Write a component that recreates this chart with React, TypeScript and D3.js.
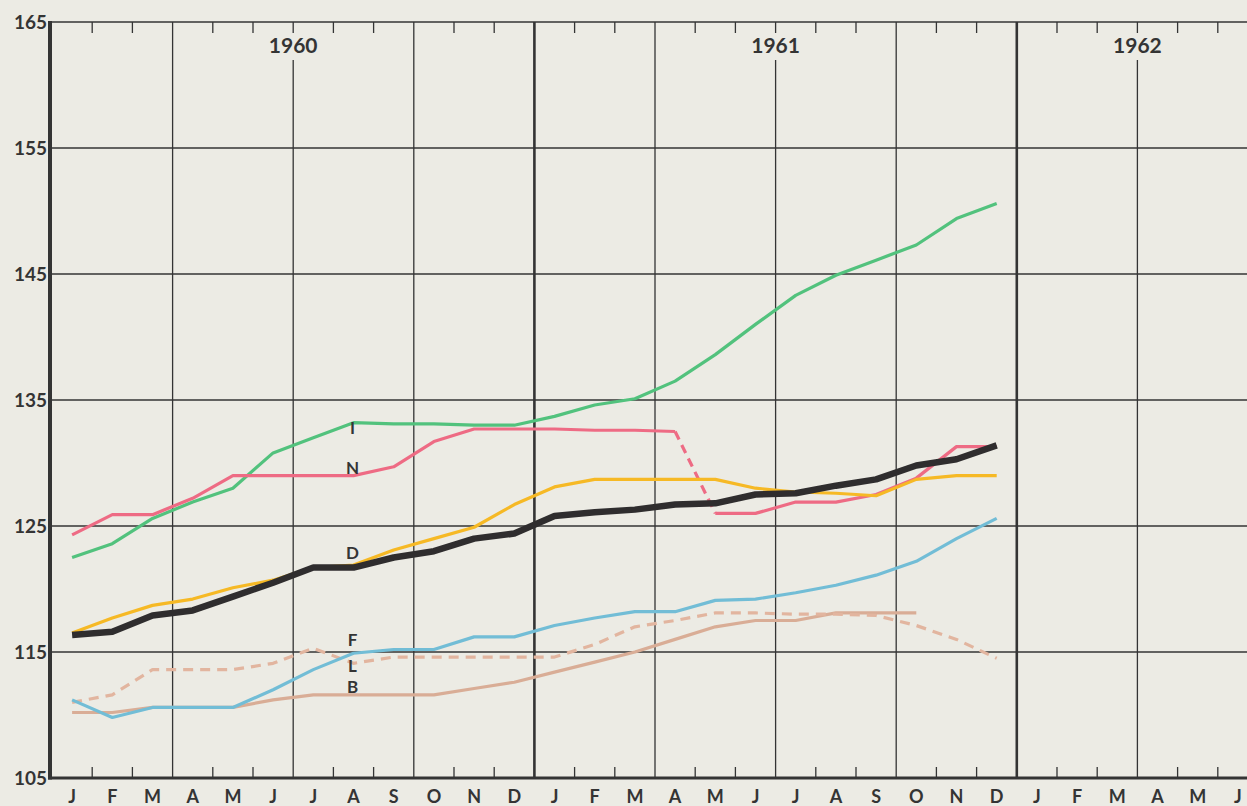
import { useEffect, useRef } from "react";
import { select, scaleLinear, line, range } from "d3";

const months = ["J", "F", "M", "A", "M", "J", "J", "A", "S", "O", "N", "D"];
const years = ["1960", "1961", "1962"];
const yTicks = [105, 115, 125, 135, 145, 155, 165];

// monthly index values, Jan 1960 onwards
const seriesD = [116.35, 116.6, 117.9, 118.3, 119.4, 120.5, 121.7, 121.7, 122.5, 123.0, 124.0, 124.4, 125.8, 126.1, 126.3, 126.7, 126.8, 127.5, 127.6, 128.2, 128.7, 129.8, 130.3, 131.4];
const seriesY = [116.5, 117.7, 118.7, 119.2, 120.1, 120.7, 121.7, 121.9, 123.1, 124.0, 124.9, 126.7, 128.1, 128.7, 128.7, 128.7, 128.7, 128.0, 127.7, 127.6, 127.4, 128.7, 129.0, 129.0];
const seriesI = [122.5, 123.6, 125.6, 126.9, 128.0, 130.8, 132.0, 133.2, 133.1, 133.1, 133.0, 133.0, 133.7, 134.6, 135.1, 136.5, 138.6, 141.0, 143.3, 144.9, 146.1, 147.3, 149.4, 150.6];
const seriesN = [124.3, 125.9, 125.9, 127.2, 129.0, 129.0, 129.0, 129.0, 129.7, 131.7, 132.7, 132.7, 132.7, 132.6, 132.6, 132.5, 126.0, 126.0, 126.9, 126.9, 127.5, 128.8, 131.3, 131.3];
const seriesF = [111.2, 109.8, 110.6, 110.6, 110.6, 112.0, 113.6, 114.9, 115.2, 115.2, 116.2, 116.2, 117.1, 117.7, 118.2, 118.2, 119.1, 119.2, 119.7, 120.3, 121.1, 122.2, 124.0, 125.6];
const seriesB = [110.2, 110.2, 110.6, 110.6, 110.6, 111.2, 111.6, 111.6, 111.6, 111.6, 112.1, 112.6, 113.4, 114.2, 115.0, 116.0, 117.0, 117.5, 117.5, 118.1, 118.1, 118.1];
const seriesL = [111.0, 111.6, 113.6, 113.6, 113.6, 114.1, 115.3, 114.1, 114.6, 114.6, 114.6, 114.6, 114.6, 115.6, 117.0, 117.5, 118.1, 118.1, 118.0, 118.0, 117.9, 117.1, 116.0, 114.5];

// pink N is dashed between these two months
const nDashFrom = 15;
const nDashTo = 16;

const labels = [
  { text: "I", month: 7, value: 132.8 },
  { text: "N", month: 7, value: 129.6 },
  { text: "D", month: 7, value: 122.9 },
  { text: "F", month: 7, value: 115.95 },
  { text: "L", month: 7, value: 113.9 },
  { text: "B", month: 7, value: 112.2 },
];

const size = { w: 1247, h: 806 };
const FONT = "Lato, 'DejaVu Sans', sans-serif";
const INK = "#343434";
const nMonths = 30;

const drawChart = (ref: SVGSVGElement) => {
  const svg = select(ref);
  svg.selectAll("*").remove();

  const x = scaleLinear().domain([0, nMonths]).range([52, 52 + nMonths * 40.2]);
  const y = scaleLinear().domain([105, 165]).range([778, 22]);

  // year label sits on the mid line of the visible part of each year
  const lastVisible = Math.floor(x.invert(size.w));
  const yearMid = years.map((d, i) => Math.min(i * 12 + 6, Math.round((i * 12 + lastVisible) / 2 / 3) * 3));

  svg.append("rect").attr("width", size.w).attr("height", size.h).attr("fill", "#ecebe4");

  const grid = svg.append("g").attr("stroke", INK).attr("fill", "none");

  // horizontal grid
  grid
    .selectAll("line.h")
    .data(yTicks.filter((d) => d > 105 && d < 165))
    .join("line")
    .attr("x1", x(0))
    .attr("x2", size.w)
    .attr("y1", (d) => y(d))
    .attr("y2", (d) => y(d))
    .attr("stroke-width", 1.3);

  // top border
  grid.append("line").attr("x1", x(0)).attr("x2", size.w).attr("y1", y(165)).attr("y2", y(165)).attr("stroke-width", 1.5);

  // quarter lines, broken under the year labels
  const quarters = range(3, nMonths, 3);
  grid
    .selectAll("line.q")
    .data(quarters)
    .join("line")
    .attr("x1", (d) => x(d))
    .attr("x2", (d) => x(d))
    .attr("y1", (d) => (yearMid.includes(d) ? 60 : y(165)))
    .attr("y2", y(105))
    .attr("stroke-width", (d) => (d % 12 === 0 ? 2.6 : 1.3));

  // month ticks top & bottom
  const ticks = range(1, nMonths + 1).filter((d) => d % 3 !== 0 || yearMid.includes(d));
  grid
    .selectAll("line.tt")
    .data(ticks)
    .join("line")
    .attr("x1", (d) => x(d))
    .attr("x2", (d) => x(d))
    .attr("y1", y(165))
    .attr("y2", y(165) + 11)
    .attr("stroke-width", 1.3);
  grid
    .selectAll("line.tb")
    .data(ticks.filter((d) => d % 3 !== 0))
    .join("line")
    .attr("x1", (d) => x(d))
    .attr("x2", (d) => x(d))
    .attr("y1", y(105))
    .attr("y2", y(105) - 11)
    .attr("stroke-width", 1.3);

  // axes
  svg.append("line").attr("x1", 50).attr("x2", 50).attr("y1", y(165) - 1).attr("y2", y(105) + 1.5).attr("stroke", INK).attr("stroke-width", 4);
  svg.append("line").attr("x1", 48).attr("x2", size.w).attr("y1", y(105)).attr("y2", y(105)).attr("stroke", INK).attr("stroke-width", 3);

  // y labels
  svg
    .append("g")
    .selectAll("text")
    .data(yTicks)
    .join("text")
    .attr("x", 47)
    .attr("y", (d) => y(d))
    .attr("dy", "0.36em")
    .attr("text-anchor", "end")
    .attr("font-family", FONT)
    .attr("font-weight", 700)
    .attr("font-size", 19)
    .attr("fill", INK)
    .text((d) => d);

  // month labels
  svg
    .append("g")
    .selectAll("text")
    .data(range(0, nMonths))
    .join("text")
    .attr("x", (d) => x(d + 0.5))
    .attr("y", 803)
    .attr("text-anchor", "middle")
    .attr("font-family", FONT)
    .attr("font-weight", 700)
    .attr("font-size", 18)
    .attr("fill", INK)
    .text((d) => months[d % 12]);

  // year labels
  svg
    .append("g")
    .selectAll("text")
    .data(years)
    .join("text")
    .attr("x", (d, i) => x(yearMid[i]))
    .attr("y", 53)
    .attr("text-anchor", "middle")
    .attr("font-family", FONT)
    .attr("font-weight", 700)
    .attr("font-size", 21)
    .attr("fill", INK)
    .text((d) => d);

  const path = line<number>()
    .x((d, i) => x(i + 0.5))
    .y((d) => y(d));

  const plot = svg.append("g").attr("fill", "none").attr("stroke-linejoin", "round");

  const drawSeries = (vals: number[], color: string, width: number, dash?: string) =>
    plot
      .append("path")
      .attr("d", path(vals))
      .attr("stroke", color)
      .attr("stroke-width", width)
      .attr("stroke-dasharray", dash ?? null);

  drawSeries(seriesB, "#d9ad96", 3.2);
  drawSeries(seriesL, "#e2b59f", 3.2, "10 7");
  drawSeries(seriesF, "#72bdd6", 3.2);
  drawSeries(seriesI, "#52c27d", 3.2);

  // N: solid, dashed drop, solid
  const linePart = line<number>()
    .x((d) => x(d + 0.5))
    .y((d) => y(seriesN[d]));
  plot.append("path").attr("d", linePart(range(0, nDashFrom + 1))).attr("stroke", "#ee6b84").attr("stroke-width", 3.2);
  plot.append("path").attr("d", linePart([nDashFrom, nDashTo])).attr("stroke", "#ee6b84").attr("stroke-width", 3.2).attr("stroke-dasharray", "9 6");
  plot.append("path").attr("d", linePart(range(nDashTo, seriesN.length))).attr("stroke", "#ee6b84").attr("stroke-width", 3.2);

  drawSeries(seriesY, "#f6b925", 3.2);
  drawSeries(seriesD, "#2f2d2e", 6.5);

  svg
    .append("g")
    .selectAll("text")
    .data(labels)
    .join("text")
    .attr("x", (d) => x(d.month + 0.5) - 1)
    .attr("y", (d) => y(d.value))
    .attr("dy", "0.36em")
    .attr("text-anchor", "middle")
    .attr("font-family", FONT)
    .attr("font-weight", 700)
    .attr("font-size", 17)
    .attr("fill", INK)
    .text((d) => d.text);
};

export default function App() {
  const ref = useRef<SVGSVGElement>(null);

  useEffect(() => {
    if (ref.current) drawChart(ref.current);
  }, []);

  return (
    <div style={{ position: "absolute", left: 0, top: 0 }}>
      <svg ref={ref} width={size.w} height={size.h} style={{ display: "block" }}></svg>
    </div>
  );
}
